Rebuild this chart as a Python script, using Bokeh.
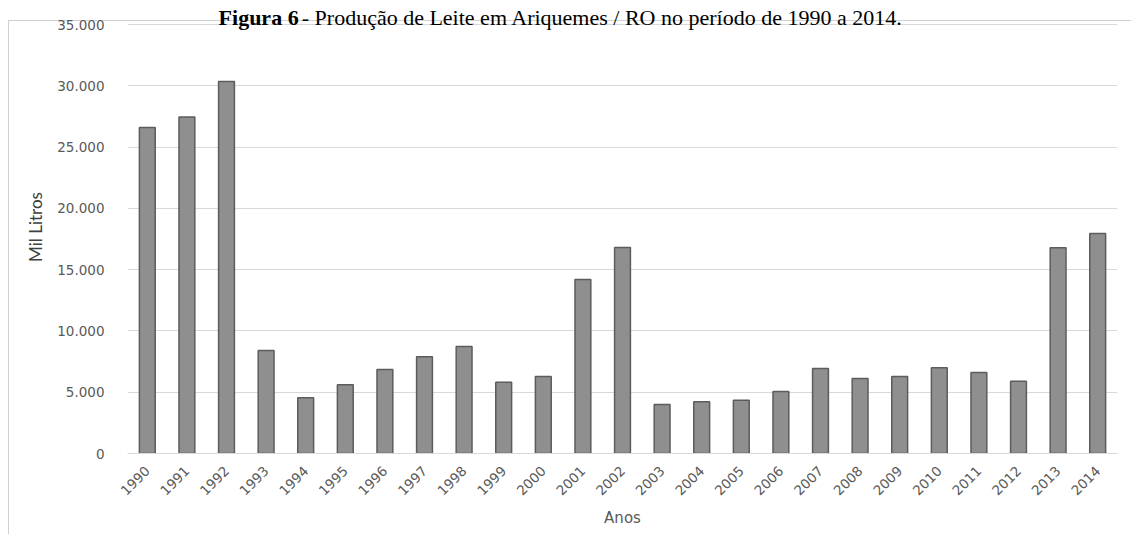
from bokeh.plotting import figure
from bokeh.models import ColumnDataSource, FactorRange, FixedTicker, Label
from bokeh.embed import file_html
from bokeh.resources import INLINE

# Produção de leite (mil litros) por ano
anos = [str(a) for a in range(1990, 2015)]
producao = [26600, 27450, 30350, 8400, 4550, 5600, 6850, 7900, 8730, 5820,
            6280, 14200, 16800, 4000, 4220, 4350, 5060, 6930, 6120, 6280,
            6990, 6610, 5900, 16780, 17950]

y_ticks = [0, 5000, 10000, 15000, 20000, 25000, 30000, 35000]
y_tick_labels = ["0", "5.000", "10.000", "15.000", "20.000", "25.000",
                 "30.000", "35.000"]

titulo_negrito = "Figura 6"
titulo_resto = " - Produção de Leite em Ariquemes / RO no período de 1990 a 2014."

W, H = 1131, 534
BOTTOM = 81          # space under the plot area for the year labels
TOP_GRID_PX = 24     # pixel row of the 35.000 gridline

# the frame reaches the top of the canvas so the caption can sit inside it;
# the y range is stretched so that 35.000 falls on TOP_GRID_PX
frame_h = H - BOTTOM
y_end = 35000 * frame_h / (frame_h - TOP_GRID_PX)
px = y_end / frame_h   # data units per pixel

source = ColumnDataSource(data=dict(anos=anos, producao=producao))

p = figure(width=W, height=H, x_range=FactorRange(*anos),
           y_range=(0, y_end), output_backend="svg", toolbar_location=None,
           min_border_left=127, min_border_right=14, min_border_top=0,
           min_border_bottom=BOTTOM)
p.outline_line_color = None
p.background_fill_alpha = 0
p.border_fill_alpha = 0

# thin light-grey chart border (left and top edges)
border = "linear-gradient(#d0d0d0, #d0d0d0)"
p.styles = {
    "background-color": "white",
    "background-image": f"{border}, {border}",
    "background-size": "1px 100%, 100% 1px",
    "background-position": "8px 20px, 8px 20px",
    "background-repeat": "no-repeat",
}

p.vbar(x="anos", top="producao", width=0.4, source=source,
       fill_color="#8f8f8f", line_color="#5c5c5c", line_width=1.5)

# y axis
p.yaxis.ticker = FixedTicker(ticks=y_ticks)
p.yaxis.major_label_overrides = dict(zip(y_ticks, y_tick_labels))
p.yaxis.axis_line_color = None
p.yaxis.major_tick_line_color = None
p.yaxis.minor_tick_line_color = None
p.yaxis.major_label_standoff = 17
p.yaxis.major_label_text_font = "DejaVu Sans"
p.yaxis.major_label_text_font_size = "13.5px"
p.yaxis.major_label_text_color = "#595959"
p.yaxis.axis_label = "Mil Litros"
p.yaxis.axis_label_text_font = "Lato"
p.yaxis.axis_label_text_font_style = "normal"
p.yaxis.axis_label_text_font_size = "17px"
p.yaxis.axis_label_text_color = "#404040"
p.yaxis.axis_label_standoff = 8

# x axis
p.xaxis.axis_line_color = "#d9d9d9"
p.xaxis.major_tick_line_color = None
p.xaxis.minor_tick_line_color = None
p.xaxis.major_label_orientation = 0.785
p.xaxis.major_label_standoff = 9
p.xaxis.major_label_text_font = "DejaVu Sans"
p.xaxis.major_label_text_font_size = "13.5px"
p.xaxis.major_label_text_color = "#595959"
p.xaxis.axis_label = "Anos"
p.xaxis.axis_label_text_font = "DejaVu Sans"
p.xaxis.axis_label_text_font_style = "normal"
p.xaxis.axis_label_text_font_size = "15px"
p.xaxis.axis_label_text_color = "#595959"
p.xaxis.axis_label_standoff = 6

p.xgrid.grid_line_color = None
p.ygrid.grid_line_color = "#d9d9d9"

# caption at the top of the page (bold figure number, regular text)
y_cap = y_end - 17 * px
p.add_layout(Label(x=2.3, y=y_cap, text=titulo_negrito,
                   text_font="Liberation Serif", text_font_style="bold",
                   text_font_size="22px", text_color="black",
                   text_align="left", text_baseline="alphabetic"))
p.add_layout(Label(x=4.4, y=y_cap, text=titulo_resto,
                   text_font="Liberation Serif", text_font_size="22px",
                   text_color="black", text_align="left",
                   text_baseline="alphabetic"))

open("out.html", "w").write(file_html(p, INLINE))
